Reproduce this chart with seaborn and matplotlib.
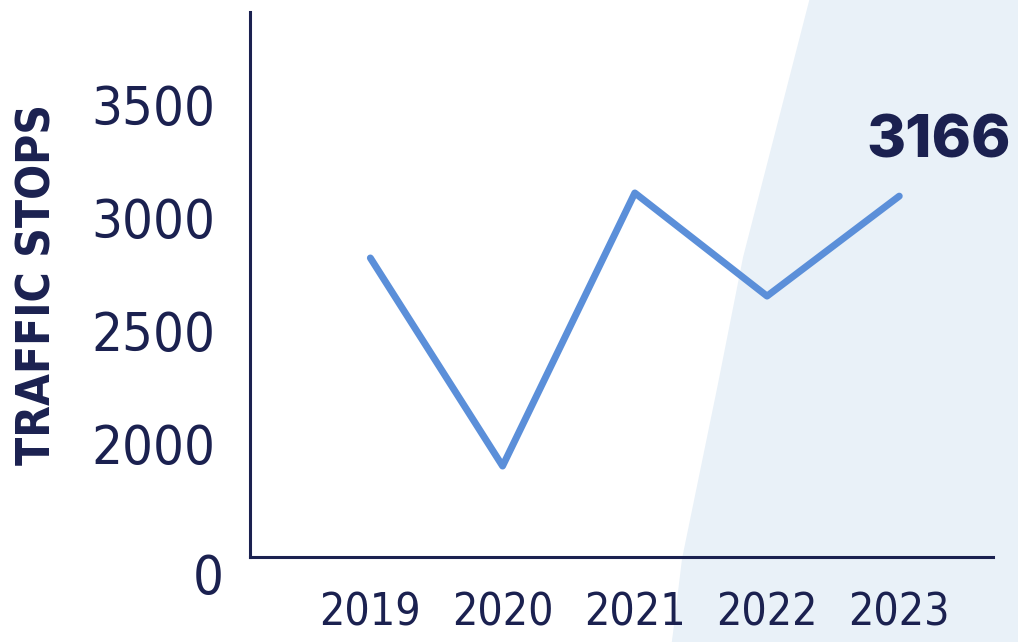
import numpy as np
import pandas as pd
import matplotlib
matplotlib.use("Agg")
import matplotlib.pyplot as plt
import seaborn as sns
from matplotlib.patches import Polygon

# Data
years = ["2019", "2020", "2021", "2022", "2023"]
stops = [2820, 1898, 3108, 2651, 3094]
last_label = "3166"
y_ticks = [2000, 2500, 3000, 3500]

navy = "#1b2150"
line_blue = "#5b8fd9"

sns.set_theme(style="white")
plt.rcParams["font.family"] = ["DejaVu Sans"]
plt.rcParams["font.stretch"] = "condensed"

df = pd.DataFrame({"year": years, "stops": stops})
df["pos"] = np.arange(len(df))

fig = plt.figure(figsize=(10.18, 6.42), dpi=100)
fig.patch.set_facecolor("white")

# soft watercolor-like wash on the right
wash_outer = Polygon([(0.80, 1.0), (0.735, 0.55), (0.70, 0.30), (0.66, 0.0), (1.0, 0.0), (1.0, 1.0)],
                     closed=True, transform=fig.transFigure, facecolor="#f1f6fb", edgecolor="none", zorder=0)
wash = Polygon([(0.795, 1.0), (0.73, 0.60), (0.705, 0.40), (0.67, 0.13), (0.66, 0.0), (1.0, 0.0), (1.0, 1.0)],
               closed=True, transform=fig.transFigure, facecolor="#e9f1f8", edgecolor="none", zorder=0)
fig.patches.extend([wash_outer, wash])

ax = fig.add_axes([0.2456, 0.1324, 0.73, 0.849])
ax.set_facecolor("none")
ax.set_zorder(2)

sns.lineplot(data=df, x="pos", y="stops", color=line_blue, linewidth=5, ax=ax)

ax.set_xlim(-0.91, 4.71)
ax.set_ylim(1495, 3910)
ax.set_xticks(df["pos"])
ax.set_xticklabels(years)
ax.set_yticks(y_ticks)
ax.set_yticklabels([str(t) for t in y_ticks])

for s in ["top", "right"]:
    ax.spines[s].set_visible(False)
for s in ["left", "bottom"]:
    ax.spines[s].set_color(navy)
    ax.spines[s].set_linewidth(2.2)

ax.tick_params(axis="y", direction="out", length=20, width=1.2, color="#555a70",
               labelsize=39, labelcolor=navy, pad=5)
ax.tick_params(axis="x", direction="out", length=19, width=1.2, color="#555a70",
               labelsize=32, labelcolor=navy, pad=6)
ax.set_xlabel("")
ax.set_ylabel("TRAFFIC STOPS", fontsize=33, fontweight="bold", color=navy, labelpad=22)

# broken-axis zero label
ax.text(-0.035, -0.04, "0", transform=ax.transAxes, ha="right", va="center",
        fontsize=39, color=navy)

# highlight last value
ax.annotate(last_label, xy=(df["pos"].iloc[-1], df["stops"].iloc[-1]), xytext=(28, 19),
            textcoords="offset points", ha="center", va="bottom",
            fontsize=43, fontweight=800, color=navy, family=["Inter", "DejaVu Sans"],
            fontstretch="normal")

fig.savefig("out.png", dpi=100)
